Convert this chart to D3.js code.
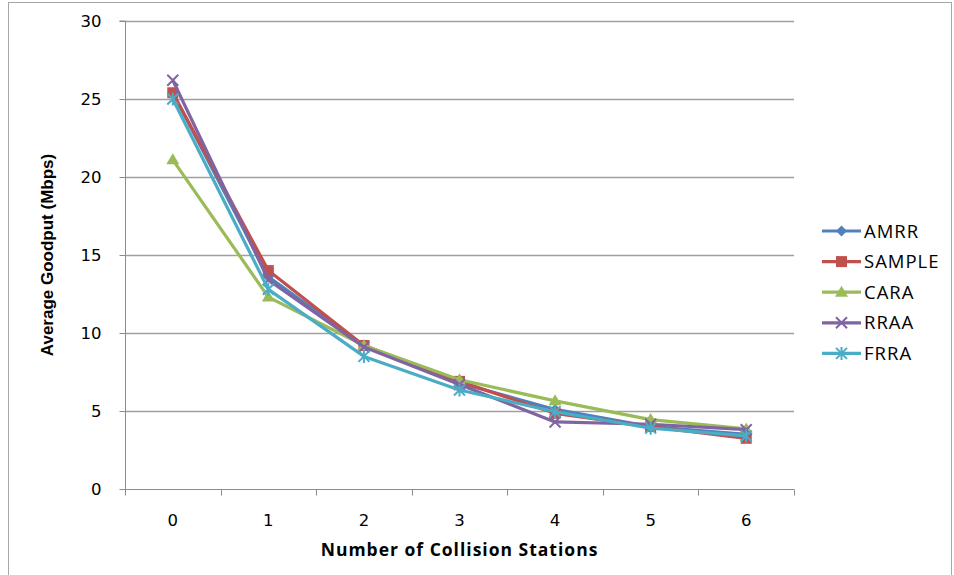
<!DOCTYPE html>
<html>
<head>
<meta charset="utf-8">
<script src="https://cdn.jsdelivr.net/npm/d3@7"></script>
<style>
  html, body { margin: 0; padding: 0; background: #fff; }
  svg { display: block; }
</style>
</head>
<body>
<svg id="chart" width="954" height="575"></svg>
<script>
// Goodput per rate-adaptation scheme vs. number of colliding stations
const stations = [0, 1, 2, 3, 4, 5, 6];
const seriesNames = ["AMRR", "SAMPLE", "CARA", "RRAA", "FRRA"];
const amrr   = [25.4, 13.6, 9.2, 6.8, 5.1, 4.0, 3.5];
const sample = [25.4, 14.0, 9.2, 6.9, 4.85, 4.0, 3.25];
const cara   = [21.1, 12.3, 9.2, 7.0, 5.65, 4.45, 3.85];
const rraa   = [26.2, 13.4, 9.1, 6.7, 4.3, 4.15, 3.8];
const frra   = [25.0, 12.8, 8.5, 6.35, 4.95, 3.9, 3.4];
const yTicks = [0, 5, 10, 15, 20, 25, 30];

const seriesValues = [amrr, sample, cara, rraa, frra];
const colors = ["#4F81BD", "#C0504D", "#9BBB59", "#8064A2", "#4BACC6"];
const markers = ["diamond", "square", "triangle", "cross", "star"];

const svg = d3.select("#chart");
const W = 954, H = 575;
const plot = { left: 125, right: 794, top: 21, bottom: 489 };

// outer frame
svg.append("rect")
  .attr("x", 8.5).attr("y", 2.5)
  .attr("width", W - 11).attr("height", H + 10)
  .attr("fill", "#fff").attr("stroke", "#a6a6a6").attr("stroke-width", 1);

const x = d3.scaleBand().domain(stations).range([plot.left, plot.right]).padding(0);
const y = d3.scaleLinear().domain([0, 30]).range([plot.bottom, plot.top]);

const tickFont = "'DejaVu Sans', Verdana, sans-serif";
const titleFont = "'Liberation Sans Narrow', 'Liberation Sans', Arial, sans-serif";
const textFont = "'Open Sans', 'Liberation Sans', Arial, sans-serif";

// horizontal gridlines
svg.append("g")
  .selectAll("line")
  .data(yTicks.filter(d => d > 0))
  .join("line")
  .attr("x1", plot.left).attr("x2", plot.right)
  .attr("y1", d => Math.round(y(d)) + 0.5).attr("y2", d => Math.round(y(d)) + 0.5)
  .attr("stroke", "#a0a0a0").attr("stroke-width", 1.5);

// y axis
const yAxis = d3.axisLeft(y).tickValues(yTicks).tickSize(6).tickPadding(18);
const gy = svg.append("g")
  .attr("transform", `translate(${plot.left + 0.5},0)`)
  .call(yAxis);
gy.select(".domain").attr("stroke", "#8c8c8c").attr("d", `M-6,${plot.top}H0V${plot.bottom}`);
gy.selectAll(".tick line").attr("stroke", "#8c8c8c");
gy.selectAll(".tick text")
  .attr("font-family", tickFont).attr("font-size", 16.5).attr("fill", "#000");

// x axis with ticks between categories
const gx = svg.append("g")
  .attr("transform", `translate(0,${plot.bottom + 0.5})`);
gx.append("line")
  .attr("x1", plot.left).attr("x2", plot.right)
  .attr("stroke", "#8c8c8c").attr("stroke-width", 1);
const boundaries = stations.map(d => x(d)).concat([plot.right]);
gx.selectAll("line.tk")
  .data(boundaries)
  .join("line").attr("class", "tk")
  .attr("x1", d => Math.round(d) + 0.5).attr("x2", d => Math.round(d) + 0.5)
  .attr("y1", 0).attr("y2", 6)
  .attr("stroke", "#8c8c8c");
gx.selectAll("text")
  .data(stations)
  .join("text")
  .attr("x", d => x(d) + x.bandwidth() / 2)
  .attr("y", 36)
  .attr("text-anchor", "middle")
  .attr("font-family", tickFont).attr("font-size", 16.5)
  .text(d => d);

// axis titles
svg.append("text")
  .attr("transform", `translate(53,${(plot.top + plot.bottom) / 2}) rotate(-90)`)
  .attr("text-anchor", "middle")
  .attr("font-family", titleFont).attr("font-weight", "bold").attr("font-size", 17)
  .text("Average Goodput (Mbps)");
svg.append("text")
  .attr("x", (plot.left + plot.right) / 2)
  .attr("y", 556)
  .attr("text-anchor", "middle")
  .attr("font-family", textFont)
  .attr("font-weight", "bold").attr("font-size", 17.5)
  .attr("letter-spacing", 1)
  .text("Number of Collision Stations");

// marker drawing
function drawMarker(g, type, color, cx, cy) {
  const s = 5.5;
  if (type === "diamond") {
    g.append("path").attr("d", `M${cx},${cy - s}L${cx + s},${cy}L${cx},${cy + s}L${cx - s},${cy}Z`)
      .attr("fill", color);
  } else if (type === "square") {
    g.append("rect").attr("x", cx - s).attr("y", cy - s).attr("width", 2 * s).attr("height", 2 * s)
      .attr("fill", color);
  } else if (type === "triangle") {
    g.append("path").attr("d", `M${cx},${cy - s - 1}L${cx + s + 1},${cy + s - 1}L${cx - s - 1},${cy + s - 1}Z`)
      .attr("fill", color);
  } else if (type === "cross") {
    g.append("path").attr("d", `M${cx - s},${cy - s}L${cx + s},${cy + s}M${cx - s},${cy + s}L${cx + s},${cy - s}`)
      .attr("stroke", color).attr("stroke-width", 2).attr("fill", "none");
  } else if (type === "star") {
    g.append("path").attr("d", `M${cx - s},${cy - s}L${cx + s},${cy + s}M${cx - s},${cy + s}L${cx + s},${cy - s}M${cx},${cy - s - 1}V${cy + s + 1}`)
      .attr("stroke", color).attr("stroke-width", 2).attr("fill", "none");
  }
}

// series lines and markers
const line = d3.line()
  .x((d, i) => x(stations[i]) + x.bandwidth() / 2)
  .y(d => y(d));

seriesValues.forEach((vals, si) => {
  const g = svg.append("g");
  g.append("path")
    .datum(vals)
    .attr("d", line)
    .attr("fill", "none")
    .attr("stroke", colors[si])
    .attr("stroke-width", 3.2)
    .attr("stroke-linejoin", "round");
  vals.forEach((v, i) => drawMarker(g, markers[si], colors[si], x(stations[i]) + x.bandwidth() / 2, y(v)));
});

// legend
const legend = svg.append("g");
seriesNames.forEach((name, i) => {
  const ly = 231 + i * 30.6;
  const lg = legend.append("g");
  lg.append("line")
    .attr("x1", 822).attr("x2", 861).attr("y1", ly).attr("y2", ly)
    .attr("stroke", colors[i]).attr("stroke-width", 3.2);
  drawMarker(lg, markers[i], colors[i], 841.5, ly);
  lg.append("text")
    .attr("x", 864).attr("y", ly + 6.5)
    .attr("font-family", textFont)
    .attr("font-size", 18.5)
    .attr("letter-spacing", 1)
    .text(name);
});
</script>
</body>
</html>
